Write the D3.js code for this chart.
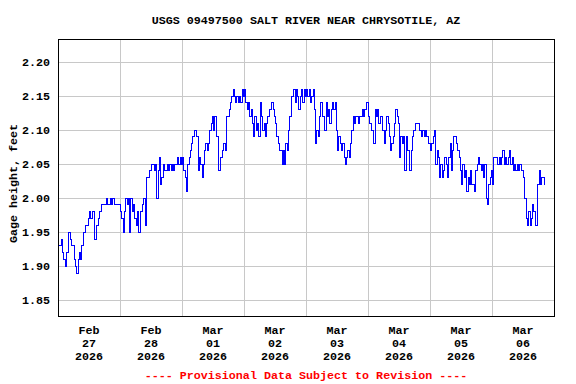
<!DOCTYPE html>
<html><head><meta charset="utf-8">
<script src="https://cdn.jsdelivr.net/npm/d3@7"></script>
<style>
html,body{margin:0;padding:0;background:#fff;}
svg{display:block;}
text{font-family:"Liberation Mono","DejaVu Sans Mono",monospace;font-weight:bold;font-size:11.7px;fill:#000;}
</style></head>
<body>
<svg id="chart" width="576" height="384"></svg>
<script>
// Gage height (feet), 30-minute readings, one array per day
const feb27 = [1.94,1.93,1.93,1.94,1.92,1.91,1.90,1.92,1.92,1.95,1.94,1.93,1.93,1.91,1.90,1.89,1.91,1.92,1.91,1.93,1.95,1.95,1.96,1.96,1.97,1.98,1.97,1.98,1.98,1.94,1.96,1.96,1.97,1.98,1.99,1.99,1.99,1.99,2.00,1.99,1.99,2.00,1.99,2.00,1.99,1.99,1.99,1.99];
const feb28 = [1.99,1.98,1.97,1.95,1.98,2.00,1.99,2.00,1.95,2.00,1.98,1.99,1.97,1.96,1.98,1.95,1.98,1.98,1.99,2.00,1.96,2.03,2.03,2.04,2.04,2.05,2.05,2.04,2.05,2.00,2.04,2.06,2.02,2.03,2.05,2.04,2.04,2.05,2.04,2.05,2.04,2.05,2.04,2.05,2.05,2.06,2.05,2.06];
const mar01 = [2.05,2.06,2.04,2.03,2.01,2.05,2.06,2.07,2.08,2.09,2.10,2.10,2.09,2.04,2.06,2.05,2.03,2.05,2.07,2.08,2.07,2.08,2.10,2.11,2.12,2.10,2.12,2.09,2.09,2.04,2.06,2.06,2.07,2.08,2.07,2.12,2.12,2.13,2.14,2.15,2.16,2.15,2.14,2.15,2.14,2.15,2.14,2.16];
const mar02 = [2.15,2.16,2.14,2.13,2.14,2.12,2.13,2.11,2.09,2.12,2.10,2.11,2.09,2.14,2.12,2.10,2.11,2.09,2.11,2.12,2.13,2.13,2.14,2.13,2.12,2.11,2.09,2.08,2.07,2.07,2.05,2.07,2.05,2.08,2.07,2.10,2.12,2.15,2.15,2.16,2.14,2.16,2.15,2.13,2.15,2.16,2.14,2.16];
const mar03 = [2.15,2.16,2.15,2.16,2.14,2.15,2.16,2.13,2.08,2.10,2.09,2.12,2.14,2.12,2.12,2.10,2.14,2.12,2.13,2.11,2.13,2.14,2.13,2.14,2.10,2.07,2.09,2.08,2.07,2.08,2.06,2.05,2.06,2.07,2.06,2.08,2.10,2.12,2.11,2.12,2.12,2.11,2.12,2.12,2.13,2.12,2.13,2.14];
const mar04 = [2.14,2.12,2.11,2.10,2.10,2.08,2.13,2.12,2.13,2.11,2.12,2.12,2.10,2.08,2.10,2.12,2.11,2.09,2.07,2.08,2.09,2.11,2.13,2.12,2.11,2.06,2.09,2.08,2.09,2.04,2.09,2.07,2.07,2.04,2.07,2.09,2.10,2.11,2.11,2.11,2.10,2.10,2.09,2.10,2.09,2.10,2.09,2.08];
const mar05 = [2.08,2.07,2.08,2.09,2.10,2.05,2.07,2.06,2.03,2.05,2.03,2.04,2.06,2.05,2.03,2.06,2.08,2.04,2.07,2.09,2.09,2.08,2.07,2.06,2.04,2.02,2.05,2.03,2.04,2.01,2.03,2.02,2.04,2.02,2.02,2.01,2.04,2.05,2.06,2.05,2.04,2.05,2.03,2.05,2.00,1.99,2.02,2.03];
const mar06 = [2.04,2.02,2.06,2.06,2.06,2.05,2.06,2.05,2.06,2.07,2.05,2.06,2.05,2.06,2.07,2.05,2.06,2.04,2.05,2.04,2.05,2.04,2.05,2.04,2.04,2.03,2.00,1.97,1.96,1.98,1.96,1.97,1.99,1.98,1.96,1.96,2.02,2.04,2.02,2.03,2.03,2.02];

const days = ["2026-02-27","2026-02-28","2026-03-01","2026-03-02","2026-03-03","2026-03-04","2026-03-05","2026-03-06"];
const dayValues = [feb27, feb28, mar01, mar02, mar03, mar04, mar05, mar06];
const dayLabels = [["Feb","27","2026"],["Feb","28","2026"],["Mar","01","2026"],["Mar","02","2026"],["Mar","03","2026"],["Mar","04","2026"],["Mar","05","2026"],["Mar","06","2026"]];
const yTicks = [1.85,1.90,1.95,2.00,2.05,2.10,2.15,2.20];
const title = "USGS 09497500 SALT RIVER NEAR CHRYSOTILE, AZ";
const yTitle = "Gage height, feet";
const footer = "---- Provisional Data Subject to Revision ----";

const parse = d3.timeParse("%Y-%m-%d");
const data = [];
dayValues.forEach((vals, di) => {
  const d0 = parse(days[di]);
  vals.forEach((v, i) => data.push({t: d3.timeMinute.offset(d0, i * 30), v}));
});

const L = 58, R = 554, T = 39, B = 316;
const svg = d3.select("#chart");
const x = d3.scaleTime().domain([parse("2026-02-27"), parse("2026-03-07")]).range([L, R]);
const y = d3.scaleLinear().domain([1.8269, 2.2338]).range([B, T]);

// grid
const g = svg.append("g").attr("shape-rendering","crispEdges");
g.selectAll("line.h").data(yTicks).join("line")
  .attr("x1", L).attr("x2", R)
  .attr("y1", d => Math.round(y(d)) + 0.5).attr("y2", d => Math.round(y(d)) + 0.5)
  .attr("stroke", "#c8c8c8");
const dayTicks = d3.timeDay.range(parse("2026-02-28"), parse("2026-03-07"));
g.selectAll("line.v").data(dayTicks).join("line")
  .attr("y1", T).attr("y2", B)
  .attr("x1", d => Math.round(x(d)) + 0.5).attr("x2", d => Math.round(x(d)) + 0.5)
  .attr("stroke", "#c8c8c8");

// data line
const line = d3.line().x(d => x(d.t)).y(d => y(d.v)).curve(d3.curveStep);
svg.append("path").datum(data).attr("d", line)
  .attr("fill","none").attr("stroke","#0000ff").attr("stroke-width",1)
  .attr("shape-rendering","crispEdges");

// frame
svg.append("rect").attr("x", L + 0.5).attr("y", T + 0.5).attr("width", R - L).attr("height", B - T)
  .attr("fill","none").attr("stroke","#000").attr("stroke-width",1.2).attr("shape-rendering","crispEdges");

// y tick labels
svg.selectAll("text.yt").data(yTicks).join("text")
  .attr("x", 50).attr("y", d => y(d)).attr("dy","0.35em").attr("text-anchor","end")
  .text(d => d3.format(".2f")(d));

// x labels at noon of each day
const noons = days.map(s => d3.timeHour.offset(parse(s), 12));
noons.forEach((n, i) => {
  dayLabels[i].forEach((s, k) => {
    svg.append("text").attr("x", x(n)).attr("y", 330 + k * 13).attr("dy","0.35em")
      .attr("text-anchor","middle").text(s);
  });
});

// titles
svg.append("text").attr("x", (L + R) / 2).attr("y", 20).attr("dy","0.35em").attr("text-anchor","middle").text(title);
svg.append("text").attr("transform", `translate(13,${(T + B) / 2 + 6}) rotate(-90)`).attr("dy","0.35em")
  .attr("text-anchor","middle").text(yTitle);
svg.append("text").attr("x", (L + R) / 2).attr("y", 375).attr("dy","0.35em").attr("text-anchor","middle")
  .style("fill","#ff0000").text(footer);
</script>
</body></html>
